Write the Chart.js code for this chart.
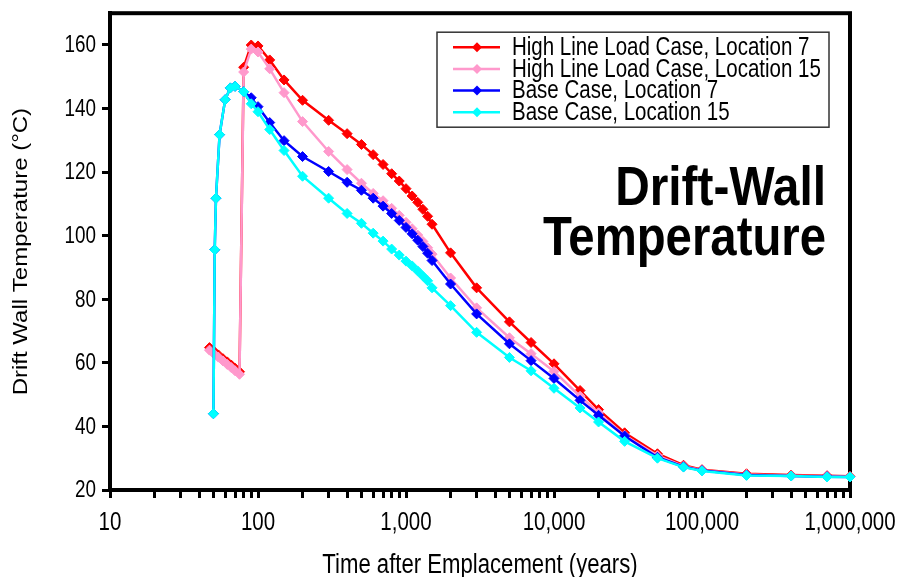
<!DOCTYPE html>
<html>
<head>
<meta charset="utf-8">
<script src="https://cdn.jsdelivr.net/npm/chart.js@4/dist/chart.umd.min.js"></script>
<style>
html,body{margin:0;padding:0;background:#fff;}
canvas{display:block;}
</style>
</head>
<body>
<canvas id="c" width="905" height="577"></canvas>
<script>
// ---- Data ----
const seriesLabels = [
  'High Line Load Case, Location 7',
  'High Line Load Case, Location 15',
  'Base Case, Location 7',
  'Base Case, Location 15'
];
const seriesColors = ['#FF0000', '#FF99CC', '#0000FF', '#00FFFF'];

const hllTimes = [47,50,54,58,62,66,70,75,80,90,100,120,150,200,300,400,500,600,700,800,900,1000,1100,1200,1300,1400,1500,2000,3000,5000,7000,10000,15000,20000,30000,50000,75000,100000,200000,400000,700000,1000000];
const hllLoc7 = [64.8,63.8,62.5,61.3,60.3,59.3,58.3,57.2,153,160,159.7,155.3,149,142.6,136.3,132.1,128.7,125.5,122.4,119.5,117.2,114.8,112.5,110.5,108.3,106.1,103.6,94.6,83.6,72.9,66.4,59.7,51.3,45.3,38,31.4,27.8,26.4,25.1,24.7,24.5,24.3];
const hllLoc15 = [64.0,63.0,61.8,60.6,59.5,58.5,57.5,56.4,151.5,158.7,157.8,152.5,145,135.9,126.5,120.8,116.5,113.3,111,108.6,106.4,104.2,102.2,100.2,98.2,96.2,94.2,86.7,77.3,67.9,62.9,57.3,49.5,44.3,37.2,30.8,27.5,26.2,24.9,24.5,24.3,24.2];

const baseTimes = [50,51,52,55,60,65,70,80,90,100,120,150,200,300,400,500,600,700,800,900,1000,1100,1200,1300,1400,1500,2000,3000,5000,7000,10000,15000,20000,30000,50000,75000,100000,200000,400000,700000,1000000];
const baseLoc7 = [44,95.6,111.8,131.8,142.8,146.5,147,145.3,143.4,140.6,135.6,129.9,124.9,120.2,116.8,114.3,111.8,109.3,107,104.8,102.6,100.6,98.6,96.6,94.5,92.2,84.8,75.4,66,60.7,55.1,48.2,43.5,37,30.3,27.3,26.1,24.7,24.4,24.2,24.1];
const baseLoc15 = [44,95.6,111.8,131.8,142.8,146.5,147,145.3,141.5,139,133.4,126.8,118.7,111.8,107,103.9,100.8,98.3,95.8,93.9,92,90.5,88.9,87.3,85.8,83.6,78,69.6,61.7,57.5,52,45.8,41.4,35.3,30,27.2,26,24.6,24.4,24.1,24.1];

const xTickDecades = [10,100,1000,10000,100000,1000000];
const yTickValues = [20,40,60,80,100,120,140,160];
const xTitle = 'Time after Emplacement (years)';
const yTitle = 'Drift Wall Temperature (°C)';
const bigTitle = ['Drift-Wall', 'Temperature'];

// ---- Build chart ----
const FONT = "'Liberation Sans', Arial, sans-serif";
const SQUEEZE = 0.82; // the reference text is horizontally condensed
function pts(xs, ys){ return xs.map((x,i)=>({x:x, y:ys[i]})); }
const seriesData = [pts(hllTimes,hllLoc7), pts(hllTimes,hllLoc15), pts(baseTimes,baseLoc7), pts(baseTimes,baseLoc15)];

const datasets = seriesData.map((d,i)=>({
  label: seriesLabels[i],
  data: d,
  borderColor: seriesColors[i],
  backgroundColor: seriesColors[i],
  pointBackgroundColor: seriesColors[i],
  pointBorderColor: seriesColors[i],
  borderWidth: 2.5,
  pointStyle: 'rectRot',
  pointRadius: 5,
  pointBorderWidth: 1,
  tension: 0,
  clip: 10,
  order: 3 - i
}));

function narrowText(ctx, text, x, y, font, align, baseline, sq){
  ctx.save();
  ctx.font = font;
  ctx.textAlign = align;
  ctx.textBaseline = baseline;
  ctx.translate(x, y);
  ctx.scale(sq || SQUEEZE, 1);
  ctx.fillText(text, 0, 0);
  ctx.restore();
}

const framePlugin = {
  id: 'frame',
  beforeDatasetsDraw(chart){
    const a = chart.chartArea, ctx = chart.ctx;
    ctx.save();
    ctx.strokeStyle = '#000';
    ctx.lineWidth = 4;
    ctx.strokeRect(a.left, a.top, a.right - a.left, a.bottom - a.top);
    ctx.restore();
  }
};

const overlayPlugin = {
  id: 'overlay',
  afterDraw(chart){
    const a = chart.chartArea, ctx = chart.ctx;
    const xs = chart.scales.x, ys = chart.scales.y;
    ctx.save();
    ctx.fillStyle = '#000';
    // axis tick labels (positions from the library's scales)
    xTickDecades.forEach(v => {
      narrowText(ctx, v.toLocaleString('en-US'), xs.getPixelForValue(v), 530, '25px ' + FONT, 'center', 'alphabetic');
    });
    yTickValues.forEach(v => {
      narrowText(ctx, String(v), a.left - 14, ys.getPixelForValue(v) + 1, '23px ' + FONT, 'right', 'middle');
    });
    // x axis title
    narrowText(ctx, xTitle, (a.left + a.right) / 2, 573, '27px ' + FONT, 'center', 'alphabetic');
    // y axis title (rotated, condensed across the glyph height)
    ctx.save();
    ctx.translate(22, (a.top + a.bottom) / 2);
    ctx.rotate(-Math.PI / 2);
    ctx.scale(1, SQUEEZE);
    ctx.font = '24px ' + FONT;
    ctx.textAlign = 'center';
    ctx.textBaseline = 'middle';
    ctx.fillText(yTitle, 0, 0);
    ctx.restore();

    // legend box
    const bx = a.right - 413, by = a.top + 19, bw = 392, bh = 95;
    ctx.fillStyle = '#fff';
    ctx.fillRect(bx, by, bw, bh);
    ctx.strokeStyle = '#333';
    ctx.lineWidth = 1.5;
    ctx.strokeRect(bx, by, bw, bh);
    chart.data.datasets.forEach((ds, i) => {
      const y = by + 15 + i * 21.7;
      ctx.strokeStyle = ds.borderColor;
      ctx.lineWidth = 2.5;
      ctx.beginPath();
      ctx.moveTo(bx + 16, y);
      ctx.lineTo(bx + 63, y);
      ctx.stroke();
      ctx.fillStyle = ds.borderColor;
      ctx.beginPath();
      const cx = bx + 40, r = 5;
      ctx.moveTo(cx, y - r); ctx.lineTo(cx + r, y); ctx.lineTo(cx, y + r); ctx.lineTo(cx - r, y); ctx.closePath();
      ctx.fill();
      ctx.fillStyle = '#000';
      narrowText(ctx, ds.label, bx + 75, y + 1, '25px ' + FONT, 'left', 'middle');
    });
    // big title
    ctx.fillStyle = '#000';
    narrowText(ctx, bigTitle[0], a.right - 24, 205, 'bold 55px ' + FONT, 'right', 'alphabetic', 0.87);
    narrowText(ctx, bigTitle[1], a.right - 24, 255, 'bold 55px ' + FONT, 'right', 'alphabetic', 0.86);
    ctx.restore();
  }
};

new Chart(document.getElementById('c'), {
  type: 'line',
  data: { datasets: datasets },
  options: {
    responsive: false,
    devicePixelRatio: 1,
    animation: false,
    layout: { padding: { left: 10, right: 55, top: 10, bottom: 0 } },
    plugins: { legend: { display: false }, tooltip: { enabled: false } },
    scales: {
      x: {
        type: 'logarithmic',
        min: 10, max: 1000000,
        afterBuildTicks(scale){
          const t = [];
          xTickDecades.forEach(d => {
            for (let k = 1; k <= 9; k++) { const v = d * k; if (v <= 1000000) t.push({value: v}); }
          });
          scale.ticks = t;
        },
        afterFit(scale){ scale.height = 87; },
        ticks: {
          autoSkip: false, maxRotation: 0, padding: 8,
          color: '#000',
          font: { family: FONT, size: 12 },
          callback(){ return ''; }
        },
        grid: { drawOnChartArea: false, drawTicks: true, tickLength: 8, tickWidth: 3, tickColor: '#000', color: '#000' },
        border: { display: true, color: '#000', width: 4 },
        title: { display: false }
      },
      y: {
        type: 'linear',
        min: 20, max: 170,
        afterBuildTicks(scale){ scale.ticks = yTickValues.map(v => ({value: v})); },
        afterFit(scale){ scale.width = 100; },
        ticks: { color: '#000', padding: 6, font: { family: FONT, size: 12 }, callback(){ return ''; } },
        grid: { drawOnChartArea: false, drawTicks: true, tickLength: 8, tickWidth: 3, tickColor: '#000', color: '#000' },
        border: { display: true, color: '#000', width: 4 },
        title: { display: false }
      }
    }
  },
  plugins: [framePlugin, overlayPlugin]
});
</script>
</body>
</html>
